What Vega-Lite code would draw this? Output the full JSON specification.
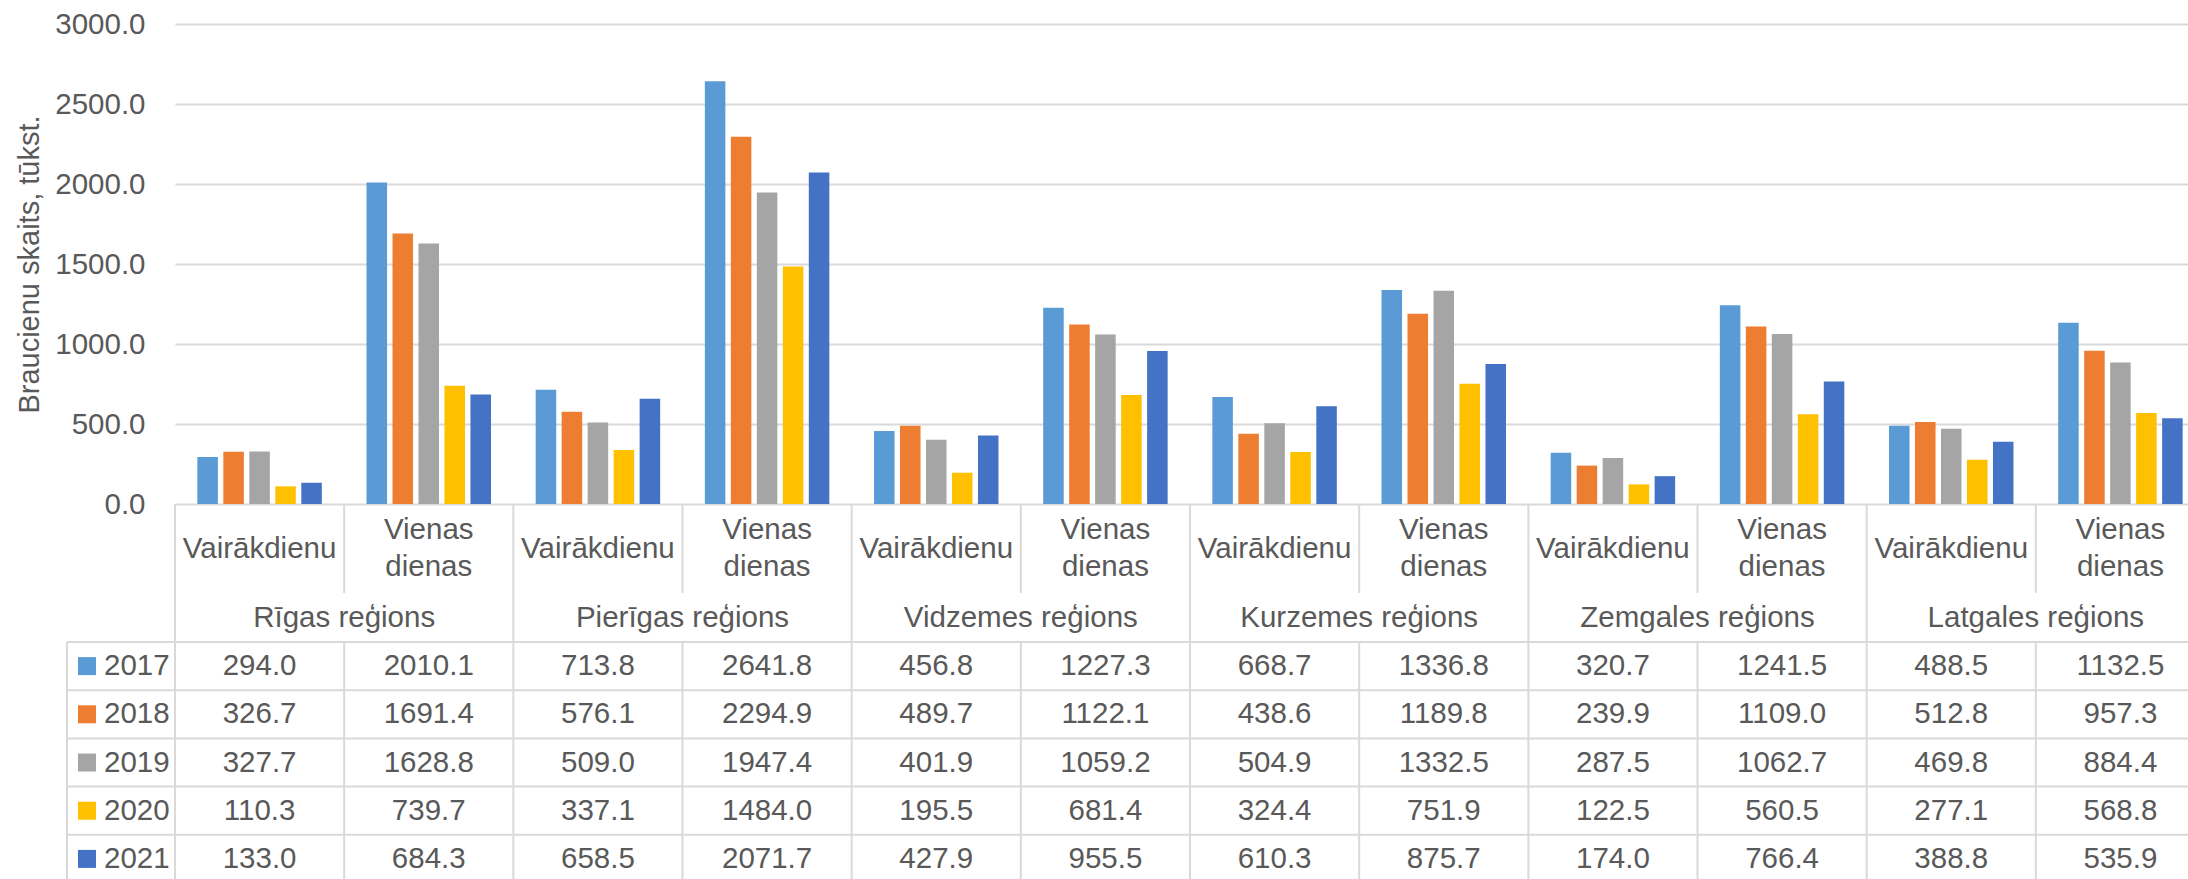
{
  "$schema": "https://vega.github.io/schema/vega-lite/v6.json",
  "autosize": {"type": "none"},
  "padding": {"left": 175, "top": 24, "right": 0, "bottom": 0},
  "width": 2013,
  "height": 855,
  "background": "white",
  "config": {"view": {"stroke": null}, "font": "Liberation Sans"},
  "datasets": {
    "trips": [
      {"region": "Rīgas reģions", "type": "Vairākdienu", "cat": "Rīgas reģions / Vairākdienu", "year": "2017", "value": 294.0},
      {"region": "Rīgas reģions", "type": "Vairākdienu", "cat": "Rīgas reģions / Vairākdienu", "year": "2018", "value": 326.7},
      {"region": "Rīgas reģions", "type": "Vairākdienu", "cat": "Rīgas reģions / Vairākdienu", "year": "2019", "value": 327.7},
      {"region": "Rīgas reģions", "type": "Vairākdienu", "cat": "Rīgas reģions / Vairākdienu", "year": "2020", "value": 110.3},
      {"region": "Rīgas reģions", "type": "Vairākdienu", "cat": "Rīgas reģions / Vairākdienu", "year": "2021", "value": 133.0},
      {"region": "Rīgas reģions", "type": "Vienas dienas", "cat": "Rīgas reģions / Vienas dienas", "year": "2017", "value": 2010.1},
      {"region": "Rīgas reģions", "type": "Vienas dienas", "cat": "Rīgas reģions / Vienas dienas", "year": "2018", "value": 1691.4},
      {"region": "Rīgas reģions", "type": "Vienas dienas", "cat": "Rīgas reģions / Vienas dienas", "year": "2019", "value": 1628.8},
      {"region": "Rīgas reģions", "type": "Vienas dienas", "cat": "Rīgas reģions / Vienas dienas", "year": "2020", "value": 739.7},
      {"region": "Rīgas reģions", "type": "Vienas dienas", "cat": "Rīgas reģions / Vienas dienas", "year": "2021", "value": 684.3},
      {"region": "Pierīgas reģions", "type": "Vairākdienu", "cat": "Pierīgas reģions / Vairākdienu", "year": "2017", "value": 713.8},
      {"region": "Pierīgas reģions", "type": "Vairākdienu", "cat": "Pierīgas reģions / Vairākdienu", "year": "2018", "value": 576.1},
      {"region": "Pierīgas reģions", "type": "Vairākdienu", "cat": "Pierīgas reģions / Vairākdienu", "year": "2019", "value": 509.0},
      {"region": "Pierīgas reģions", "type": "Vairākdienu", "cat": "Pierīgas reģions / Vairākdienu", "year": "2020", "value": 337.1},
      {"region": "Pierīgas reģions", "type": "Vairākdienu", "cat": "Pierīgas reģions / Vairākdienu", "year": "2021", "value": 658.5},
      {"region": "Pierīgas reģions", "type": "Vienas dienas", "cat": "Pierīgas reģions / Vienas dienas", "year": "2017", "value": 2641.8},
      {"region": "Pierīgas reģions", "type": "Vienas dienas", "cat": "Pierīgas reģions / Vienas dienas", "year": "2018", "value": 2294.9},
      {"region": "Pierīgas reģions", "type": "Vienas dienas", "cat": "Pierīgas reģions / Vienas dienas", "year": "2019", "value": 1947.4},
      {"region": "Pierīgas reģions", "type": "Vienas dienas", "cat": "Pierīgas reģions / Vienas dienas", "year": "2020", "value": 1484.0},
      {"region": "Pierīgas reģions", "type": "Vienas dienas", "cat": "Pierīgas reģions / Vienas dienas", "year": "2021", "value": 2071.7},
      {"region": "Vidzemes reģions", "type": "Vairākdienu", "cat": "Vidzemes reģions / Vairākdienu", "year": "2017", "value": 456.8},
      {"region": "Vidzemes reģions", "type": "Vairākdienu", "cat": "Vidzemes reģions / Vairākdienu", "year": "2018", "value": 489.7},
      {"region": "Vidzemes reģions", "type": "Vairākdienu", "cat": "Vidzemes reģions / Vairākdienu", "year": "2019", "value": 401.9},
      {"region": "Vidzemes reģions", "type": "Vairākdienu", "cat": "Vidzemes reģions / Vairākdienu", "year": "2020", "value": 195.5},
      {"region": "Vidzemes reģions", "type": "Vairākdienu", "cat": "Vidzemes reģions / Vairākdienu", "year": "2021", "value": 427.9},
      {"region": "Vidzemes reģions", "type": "Vienas dienas", "cat": "Vidzemes reģions / Vienas dienas", "year": "2017", "value": 1227.3},
      {"region": "Vidzemes reģions", "type": "Vienas dienas", "cat": "Vidzemes reģions / Vienas dienas", "year": "2018", "value": 1122.1},
      {"region": "Vidzemes reģions", "type": "Vienas dienas", "cat": "Vidzemes reģions / Vienas dienas", "year": "2019", "value": 1059.2},
      {"region": "Vidzemes reģions", "type": "Vienas dienas", "cat": "Vidzemes reģions / Vienas dienas", "year": "2020", "value": 681.4},
      {"region": "Vidzemes reģions", "type": "Vienas dienas", "cat": "Vidzemes reģions / Vienas dienas", "year": "2021", "value": 955.5},
      {"region": "Kurzemes reģions", "type": "Vairākdienu", "cat": "Kurzemes reģions / Vairākdienu", "year": "2017", "value": 668.7},
      {"region": "Kurzemes reģions", "type": "Vairākdienu", "cat": "Kurzemes reģions / Vairākdienu", "year": "2018", "value": 438.6},
      {"region": "Kurzemes reģions", "type": "Vairākdienu", "cat": "Kurzemes reģions / Vairākdienu", "year": "2019", "value": 504.9},
      {"region": "Kurzemes reģions", "type": "Vairākdienu", "cat": "Kurzemes reģions / Vairākdienu", "year": "2020", "value": 324.4},
      {"region": "Kurzemes reģions", "type": "Vairākdienu", "cat": "Kurzemes reģions / Vairākdienu", "year": "2021", "value": 610.3},
      {"region": "Kurzemes reģions", "type": "Vienas dienas", "cat": "Kurzemes reģions / Vienas dienas", "year": "2017", "value": 1336.8},
      {"region": "Kurzemes reģions", "type": "Vienas dienas", "cat": "Kurzemes reģions / Vienas dienas", "year": "2018", "value": 1189.8},
      {"region": "Kurzemes reģions", "type": "Vienas dienas", "cat": "Kurzemes reģions / Vienas dienas", "year": "2019", "value": 1332.5},
      {"region": "Kurzemes reģions", "type": "Vienas dienas", "cat": "Kurzemes reģions / Vienas dienas", "year": "2020", "value": 751.9},
      {"region": "Kurzemes reģions", "type": "Vienas dienas", "cat": "Kurzemes reģions / Vienas dienas", "year": "2021", "value": 875.7},
      {"region": "Zemgales reģions", "type": "Vairākdienu", "cat": "Zemgales reģions / Vairākdienu", "year": "2017", "value": 320.7},
      {"region": "Zemgales reģions", "type": "Vairākdienu", "cat": "Zemgales reģions / Vairākdienu", "year": "2018", "value": 239.9},
      {"region": "Zemgales reģions", "type": "Vairākdienu", "cat": "Zemgales reģions / Vairākdienu", "year": "2019", "value": 287.5},
      {"region": "Zemgales reģions", "type": "Vairākdienu", "cat": "Zemgales reģions / Vairākdienu", "year": "2020", "value": 122.5},
      {"region": "Zemgales reģions", "type": "Vairākdienu", "cat": "Zemgales reģions / Vairākdienu", "year": "2021", "value": 174.0},
      {"region": "Zemgales reģions", "type": "Vienas dienas", "cat": "Zemgales reģions / Vienas dienas", "year": "2017", "value": 1241.5},
      {"region": "Zemgales reģions", "type": "Vienas dienas", "cat": "Zemgales reģions / Vienas dienas", "year": "2018", "value": 1109.0},
      {"region": "Zemgales reģions", "type": "Vienas dienas", "cat": "Zemgales reģions / Vienas dienas", "year": "2019", "value": 1062.7},
      {"region": "Zemgales reģions", "type": "Vienas dienas", "cat": "Zemgales reģions / Vienas dienas", "year": "2020", "value": 560.5},
      {"region": "Zemgales reģions", "type": "Vienas dienas", "cat": "Zemgales reģions / Vienas dienas", "year": "2021", "value": 766.4},
      {"region": "Latgales reģions", "type": "Vairākdienu", "cat": "Latgales reģions / Vairākdienu", "year": "2017", "value": 488.5},
      {"region": "Latgales reģions", "type": "Vairākdienu", "cat": "Latgales reģions / Vairākdienu", "year": "2018", "value": 512.8},
      {"region": "Latgales reģions", "type": "Vairākdienu", "cat": "Latgales reģions / Vairākdienu", "year": "2019", "value": 469.8},
      {"region": "Latgales reģions", "type": "Vairākdienu", "cat": "Latgales reģions / Vairākdienu", "year": "2020", "value": 277.1},
      {"region": "Latgales reģions", "type": "Vairākdienu", "cat": "Latgales reģions / Vairākdienu", "year": "2021", "value": 388.8},
      {"region": "Latgales reģions", "type": "Vienas dienas", "cat": "Latgales reģions / Vienas dienas", "year": "2017", "value": 1132.5},
      {"region": "Latgales reģions", "type": "Vienas dienas", "cat": "Latgales reģions / Vienas dienas", "year": "2018", "value": 957.3},
      {"region": "Latgales reģions", "type": "Vienas dienas", "cat": "Latgales reģions / Vienas dienas", "year": "2019", "value": 884.4},
      {"region": "Latgales reģions", "type": "Vienas dienas", "cat": "Latgales reģions / Vienas dienas", "year": "2020", "value": 568.8},
      {"region": "Latgales reģions", "type": "Vienas dienas", "cat": "Latgales reģions / Vienas dienas", "year": "2021", "value": 535.9}
    ]
  },
  "data": {"name": "trips"},
  "layer": [
    {
      "mark": {"type": "bar"},
      "encoding": {
        "x": {"field": "cat", "type": "nominal", "sort": null, "scale": {"range": [0, 2030], "paddingInner": 0, "paddingOuter": 0}, "axis": null},
        "xOffset": {"field": "year", "type": "nominal", "scale": {"paddingInner": 0.21, "paddingOuter": 0.86}},
        "y": {
          "field": "value", "type": "quantitative",
          "scale": {"domain": [0, 3000], "range": [480, 0], "nice": false},
          "axis": {
            "values": [0, 500, 1000, 1500, 2000, 2500, 3000], "format": ".1f",
            "domain": false, "ticks": false, "labelPadding": 30, "labelFontSize": 29.5, "labelColor": "#595959",
            "grid": true, "gridColor": "#D9D9D9", "gridWidth": 2,
            "title": "Braucienu skaits, tūkst.", "titleFontSize": 29, "titleFontWeight": "normal", "titleColor": "#595959", "titlePadding": 10
          }
        },
        "color": {"field": "year", "type": "nominal", "scale": {"domain": ["2017", "2018", "2019", "2020", "2021"], "range": ["#5B9BD5", "#ED7D31", "#A5A5A5", "#FFC000", "#4472C4"]}, "legend": null}
      }
    },
    {
      "transform": [{"filter": "datum.year == '2017'"}],
      "mark": {"type": "rule", "color": "#D9D9D9", "strokeWidth": 2},
      "encoding": {
        "x": {"field": "cat", "type": "nominal", "sort": null, "bandPosition": 0, "scale": {"range": [0, 2030], "paddingInner": 0, "paddingOuter": 0}, "axis": null},
        "y": {"datum": 0, "type": "quantitative", "scale": {"domain": [0, 1], "range": [480, 569]}, "axis": null},
        "y2": {"datum": 1}
      }
    },
    {
      "transform": [{"filter": "datum.year == '2017' && datum.type == 'Vairākdienu'"}],
      "mark": {"type": "rule", "color": "#D9D9D9", "strokeWidth": 2},
      "encoding": {
        "x": {"field": "region", "type": "nominal", "sort": null, "bandPosition": 0, "scale": {"range": [0, 2030], "paddingInner": 0, "paddingOuter": 0}, "axis": null},
        "y": {"datum": 0, "type": "quantitative", "scale": {"domain": [0, 1], "range": [569, 618]}, "axis": null},
        "y2": {"datum": 1}
      }
    },
    {
      "transform": [{"filter": "datum.year == '2017'"}],
      "mark": {"type": "rule", "color": "#D9D9D9", "strokeWidth": 2},
      "encoding": {
        "x": {"field": "cat", "type": "nominal", "sort": null, "bandPosition": 0, "scale": {"range": [0, 2030], "paddingInner": 0, "paddingOuter": 0}, "axis": null},
        "y": {"datum": 0, "type": "quantitative", "scale": {"domain": [0, 1], "range": [618, 855]}, "axis": null},
        "y2": {"datum": 1}
      }
    },
    {
      "transform": [{"filter": "datum.cat == 'Rīgas reģions / Vairākdienu'"}],
      "mark": {"type": "rule", "color": "#D9D9D9", "strokeWidth": 2},
      "encoding": {
        "x": {"datum": 0, "type": "quantitative", "scale": {"domain": [0, 1], "range": [-108, 0]}, "axis": null},
        "y": {"datum": 0, "type": "quantitative", "scale": {"domain": [0, 1], "range": [618, 855]}, "axis": null},
        "y2": {"datum": 1}
      }
    },
    {
      "transform": [{"filter": "datum.cat == 'Rīgas reģions / Vairākdienu'"}],
      "mark": {"type": "rule", "color": "#D9D9D9", "strokeWidth": 2},
      "encoding": {
        "x": {"datum": 0, "type": "quantitative", "scale": {"domain": [0, 1], "range": [-108, 2030]}, "axis": null},
        "x2": {"datum": 1},
        "y": {"field": "year", "type": "nominal", "bandPosition": 0, "scale": {"type": "band", "range": [618, 859], "paddingInner": 0, "paddingOuter": 0}, "axis": null}
      }
    },
    {
      "transform": [{"filter": "datum.year == '2017'"}],
      "mark": {"type": "text", "lineBreak": " ", "lineHeight": 37, "baseline": "middle", "fontSize": 29.5, "color": "#595959", "dy": {"expr": "datum.type == 'Vienas dienas' ? -18.5 : 0"}},
      "encoding": {
        "x": {"field": "cat", "type": "nominal", "sort": null, "scale": {"range": [0, 2030], "paddingInner": 0, "paddingOuter": 0}, "axis": null},
        "y": {"datum": 0.5, "type": "quantitative", "scale": {"domain": [0, 1], "range": [480, 569]}, "axis": null},
        "text": {"field": "type"}
      }
    },
    {
      "transform": [{"filter": "datum.year == '2017' && datum.type == 'Vairākdienu'"}],
      "mark": {"type": "text", "baseline": "middle", "fontSize": 29.5, "color": "#595959"},
      "encoding": {
        "x": {"field": "region", "type": "nominal", "sort": null, "scale": {"range": [0, 2030], "paddingInner": 0, "paddingOuter": 0}, "axis": null},
        "y": {"datum": 0.5, "type": "quantitative", "scale": {"domain": [0, 1], "range": [569, 618]}, "axis": null},
        "text": {"field": "region"}
      }
    },
    {
      "mark": {"type": "text", "baseline": "middle", "fontSize": 29.5, "color": "#595959"},
      "encoding": {
        "x": {"field": "cat", "type": "nominal", "sort": null, "scale": {"range": [0, 2030], "paddingInner": 0, "paddingOuter": 0}, "axis": null},
        "y": {"field": "year", "type": "nominal", "scale": {"type": "band", "range": [618, 859], "paddingInner": 0, "paddingOuter": 0}, "axis": null},
        "text": {"field": "value", "type": "quantitative", "format": ".1f"}
      }
    },
    {
      "transform": [{"filter": "datum.cat == 'Rīgas reģions / Vairākdienu'"}],
      "mark": {"type": "point", "shape": "square", "filled": true, "size": 324, "opacity": 1},
      "encoding": {
        "x": {"datum": 0.185, "type": "quantitative", "scale": {"domain": [0, 1], "range": [-108, 0]}, "axis": null},
        "y": {"field": "year", "type": "nominal", "scale": {"type": "band", "range": [618, 859], "paddingInner": 0, "paddingOuter": 0}, "axis": null},
        "color": {"field": "year", "type": "nominal", "legend": null}
      }
    },
    {
      "transform": [{"filter": "datum.cat == 'Rīgas reģions / Vairākdienu'"}],
      "mark": {"type": "text", "align": "left", "baseline": "middle", "fontSize": 29.5, "color": "#595959"},
      "encoding": {
        "x": {"datum": 0.343, "type": "quantitative", "scale": {"domain": [0, 1], "range": [-108, 0]}, "axis": null},
        "y": {"field": "year", "type": "nominal", "scale": {"type": "band", "range": [618, 859], "paddingInner": 0, "paddingOuter": 0}, "axis": null},
        "text": {"field": "year"}
      }
    }
  ],
  "resolve": {"scale": {"x": "independent", "y": "independent"}}
}
